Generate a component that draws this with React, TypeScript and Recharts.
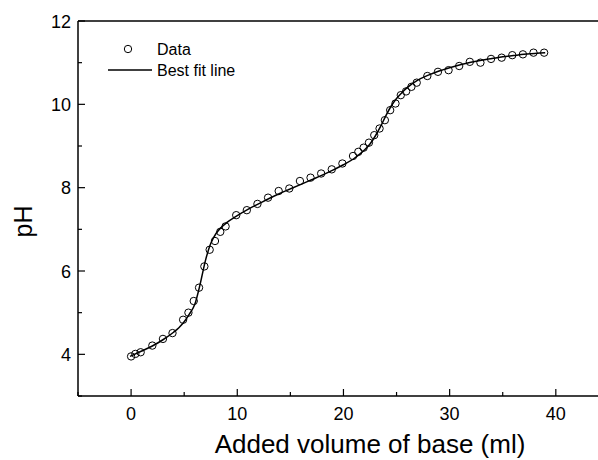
import React from "react";
import { ComposedChart, Line, Scatter, XAxis, YAxis, ReferenceLine } from "recharts";

// measured titration points (ml, pH)
const volumes = [
  0, 0.4, 0.9, 2, 3, 3.9, 4.9, 5.4, 5.9, 6.4, 6.9, 7.4, 7.9, 8.4, 8.9, 9.9, 10.9, 11.9, 12.9, 13.9,
  14.9, 15.9, 16.9, 17.9, 18.9, 19.9, 20.9, 21.4, 21.9, 22.4, 22.9, 23.4, 23.9, 24.4, 24.9, 25.4,
  25.9, 26.4, 26.9, 27.9, 28.9, 29.9, 30.9, 31.9, 32.9, 33.9, 34.9, 35.9, 36.9, 37.9, 38.9,
];
const phValues = [
  3.95, 4.01, 4.05, 4.21, 4.37, 4.51, 4.83, 5.0, 5.28, 5.6, 6.11, 6.51, 6.72, 6.94, 7.07, 7.34, 7.46,
  7.61, 7.76, 7.92, 7.98, 8.16, 8.24, 8.34, 8.44, 8.58, 8.76, 8.86, 8.96, 9.08, 9.26, 9.42, 9.62,
  9.86, 10.02, 10.22, 10.31, 10.42, 10.52, 10.68, 10.78, 10.82, 10.92, 11.02, 11.0, 11.09, 11.12,
  11.18, 11.2, 11.24, 11.24,
];

// best fit line
const fitVolumes = [
  -0.1, 1, 2, 3, 4, 4.5, 5, 5.5, 6, 6.5, 7, 7.5, 8, 8.5, 9, 10, 11, 12, 13, 14, 15, 16, 17, 18, 19,
  20, 21, 21.5, 22, 22.5, 23, 23.5, 24, 24.5, 25, 25.5, 26, 27, 28, 29, 30, 31, 32, 33, 34, 35, 36,
  37, 38, 39,
];
const fitPH = [
  3.95, 4.08, 4.2, 4.35, 4.53, 4.64, 4.78, 4.97, 5.2, 5.68, 6.25, 6.66, 6.9, 7.05, 7.16, 7.33, 7.48,
  7.61, 7.74, 7.86, 7.97, 8.08, 8.19, 8.3, 8.42, 8.55, 8.7, 8.8, 8.91, 9.05, 9.24, 9.47, 9.73, 9.96,
  10.14, 10.28, 10.4, 10.58, 10.7, 10.8, 10.88, 10.95, 11.01, 11.06, 11.1, 11.14, 11.17, 11.2, 11.22,
  11.24,
];

const xTicks = [-5, 0, 5, 10, 15, 20, 25, 30, 35, 40];
const yTicks = [3, 4, 5, 6, 7, 8, 9, 10, 11, 12];

const points = volumes.map((x, i) => ({ x, y: phValues[i] }));
const fit = fitVolumes.map((x, i) => ({ x, y: fitPH[i] }));

const FONT = "'Liberation Sans', Arial, sans-serif";

const XTick = (props: any) => {
  const { x, y, payload } = props;
  const major = payload.value % 10 === 0;
  return (
    <g>
      <line x1={x} x2={x} y1={y} y2={y - (major ? 7 : 4)} stroke="#000" strokeWidth={1.2} />
      {major && (
        <text x={x} y={y + 24} textAnchor="middle" fontSize={18} fontFamily={FONT} fill="#000">
          {payload.value}
        </text>
      )}
    </g>
  );
};

const YTick = (props: any) => {
  const { x, y, payload } = props;
  const major = payload.value % 2 === 0;
  return (
    <g>
      <line x1={x} x2={x + (major ? 7 : 4)} y1={y} y2={y} stroke="#000" strokeWidth={1.2} />
      {major && (
        <text x={x - 7} y={y + 6.5} textAnchor="end" fontSize={18} fontFamily={FONT} fill="#000">
          {payload.value}
        </text>
      )}
    </g>
  );
};

const Circle = (props: any) => (
  <circle cx={props.cx} cy={props.cy} r={3.7} fill="none" stroke="#000" strokeWidth={1} />
);

export default function App() {
  return (
    <div
      style={{
        position: "fixed",
        left: 0,
        top: 0,
        width: 598,
        height: 460,
        overflow: "hidden",
        background: "#fff",
      }}
    >
      <ComposedChart width={680} height={460} margin={{ top: 21, right: 18, left: 0, bottom: 0 }}>
        <XAxis
          type="number"
          dataKey="x"
          domain={[-5, 50]}
          ticks={xTicks}
          interval={0}
          height={64}
          tickSize={0}
          tickMargin={0}
          tickLine={false}
          tick={XTick}
          axisLine={{ stroke: "#000", strokeWidth: 1.5 }}
          label={(p: any) => (
            <text
              x={p.viewBox.x + p.viewBox.width / 2}
              y={p.viewBox.y + 57}
              textAnchor="middle"
              fontSize={26}
              fontFamily={FONT}
              fill="#000"
            >
              Added volume of base (ml)
            </text>
          )}
        />
        <YAxis
          type="number"
          dataKey="y"
          domain={[3, 12]}
          ticks={yTicks}
          interval={0}
          width={78}
          tickSize={0}
          tickMargin={0}
          tickLine={false}
          tick={YTick}
          axisLine={{ stroke: "#000", strokeWidth: 1.5 }}
          label={(p: any) => {
            const cx = p.viewBox.x + 32;
            const cy = p.viewBox.y + p.viewBox.height / 2 + 13;
            return (
              <text
                x={cx}
                y={cy}
                transform={`rotate(-90, ${cx}, ${cy})`}
                textAnchor="middle"
                fontSize={25}
                fontFamily={FONT}
                fill="#000"
              >
                pH
              </text>
            );
          }}
        />
        <ReferenceLine y={12} stroke="#000" strokeWidth={1.5} />
        <ReferenceLine x={50} stroke="#000" strokeWidth={1.5} />
        <Line
          data={fit}
          dataKey="y"
          type="monotone"
          stroke="#000"
          strokeWidth={1.5}
          dot={false}
          activeDot={false}
          isAnimationActive={false}
        />
        <Scatter data={points} dataKey="y" shape={Circle} isAnimationActive={false} />
      </ComposedChart>
      <svg
        width={300}
        height={90}
        style={{ position: "absolute", left: 0, top: 0, pointerEvents: "none" }}
      >
        <circle cx={128} cy={49} r={3.7} fill="none" stroke="#000" strokeWidth={1} />
        <text x={157} y={55} fontSize={16} fontFamily={FONT} fill="#000">
          Data
        </text>
        <line x1={108} x2={152} y1={70} y2={70} stroke="#000" strokeWidth={1.5} />
        <text x={157} y={76} fontSize={16} fontFamily={FONT} fill="#000">
          Best fit line
        </text>
      </svg>
    </div>
  );
}
